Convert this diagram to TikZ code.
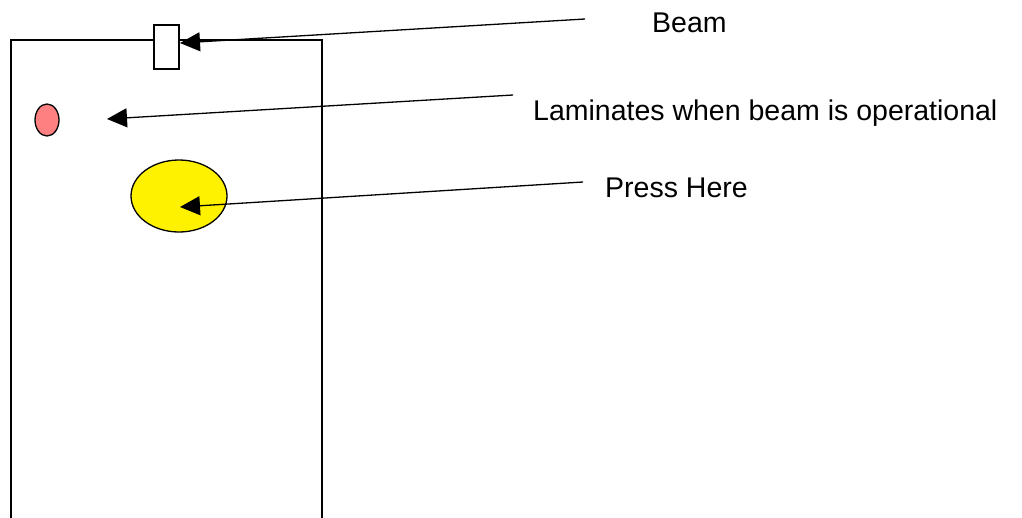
\documentclass[tikz,border=0pt]{standalone}
\usepackage{fontspec}
\setmainfont{Liberation Sans}
\usetikzlibrary{arrows.meta,shapes.geometric}
\definecolor{ledred}{HTML}{FF8080}
\begin{document}
\begin{tikzpicture}[x=1pt,y=-1pt,
  outline/.style={draw=black,line width=1.3pt},
  pointer/.style={draw=black,line width=1.3pt,-{Triangle[length=20pt,width=19pt]}},
  label/.style={anchor=base west,inner sep=0pt,font=\fontsize{28.5}{34}\selectfont}]
\useasboundingbox (0,0) rectangle (1022,517);
\begin{scope}
\clip (0,0) rectangle (1022,517);
\draw[outline] (11,530) -- (11,40) -- (322,40) -- (322,530);
\end{scope}
\node[outline,fill=white,minimum width=25pt,minimum height=44pt,inner sep=0pt] (beam) at (166.5,47) {};
\node[outline,fill=ledred,ellipse,minimum width=24pt,minimum height=32pt,inner sep=0pt] (led) at (47,120) {};
\node[outline,fill=yellow,ellipse,minimum width=96pt,minimum height=72pt,inner sep=0pt] (press) at (179,196) {};
\node[label] (tbeam) at (652,32) {Beam};
\node[label] (tlam) at (533,120) {Laminates when beam is operational};
\node[label] (tpress) at (605,197) {Press Here};
\coordinate (sbeam) at (585,19);
\coordinate (slam) at (513,95);
\coordinate (spress) at (583,182);
\coordinate (ebeam) at (180,43);
\coordinate (elam) at (107,119);
\coordinate (epress) at (180,207);
\draw[pointer] (sbeam) -- (ebeam);
\draw[pointer] (slam) -- (elam);
\draw[pointer] (spress) -- (epress);
\end{tikzpicture}
\end{document}
